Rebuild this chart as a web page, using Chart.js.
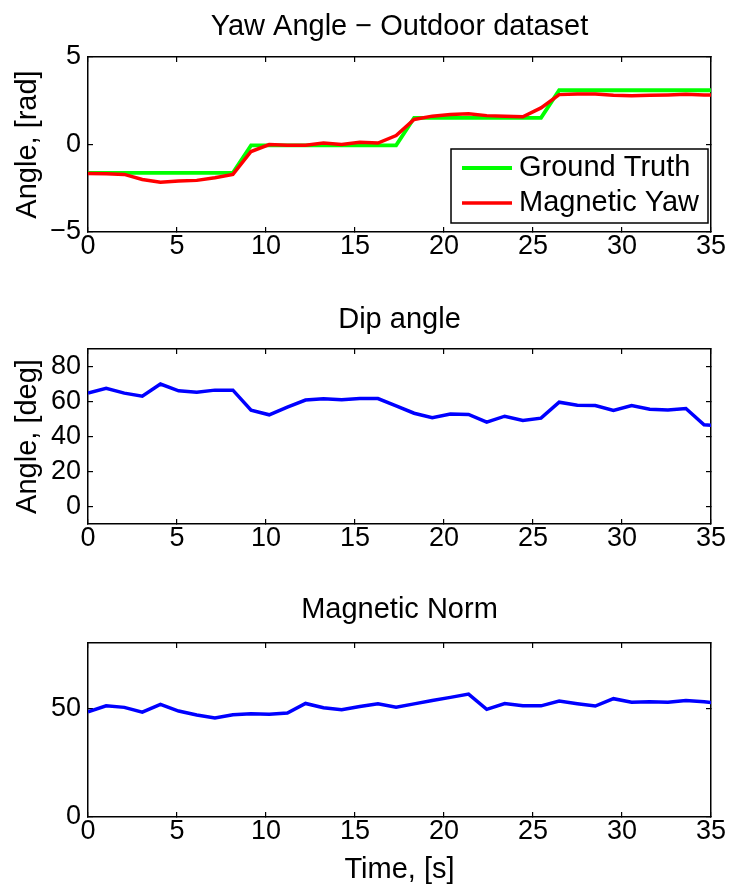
<!DOCTYPE html>
<html>
<head>
<meta charset="utf-8">
<script src="https://cdn.jsdelivr.net/npm/chart.js@4.4.0/dist/chart.umd.min.js"></script>
<style>
body { margin: 0; background: #fff; }
.box { position: absolute; left: 0; width: 731px; }
</style>
</head>
<body>
<div class="box" style="top:0;height:280px"><canvas id="yaw" width="731" height="280"></canvas></div>
<div class="box" style="top:280px;height:300px"><canvas id="dip" width="731" height="300"></canvas></div>
<div class="box" style="top:580px;height:312px"><canvas id="norm" width="731" height="312"></canvas></div>
<script>
// sample times, [s]
const time = [0, 1.02, 2.04, 3.05, 4.07, 5.09, 6.11, 7.13, 8.14, 9.16, 10.18, 11.2,
  12.22, 13.23, 14.25, 15.27, 16.29, 17.31, 18.32, 19.34, 20.36, 21.38, 22.4, 23.41,
  24.43, 25.45, 26.47, 27.49, 28.5, 29.52, 30.54, 31.56, 32.58, 33.59, 34.61, 35.63];

const yawTruth = [-1.62, -1.62, -1.62, -1.62, -1.62, -1.62, -1.62, -1.62, -1.62,
  -0.05, -0.05, -0.05, -0.05, -0.05, -0.05, -0.05, -0.05, -0.05,
  1.52, 1.52, 1.52, 1.52, 1.52, 1.52, 1.52, 1.52,
  3.1, 3.1, 3.1, 3.1, 3.1, 3.1, 3.1, 3.1, 3.1, 3.1];
const yawMagnetic = [-1.65, -1.67, -1.71, -2.0, -2.15, -2.09, -2.05, -1.9, -1.71, -0.4,
  0, -0.04, -0.04, 0.08, 0, 0.13, 0.08, 0.51, 1.43, 1.62, 1.71, 1.75, 1.65, 1.62, 1.58,
  2.09, 2.85, 2.89, 2.89, 2.81, 2.79, 2.81, 2.83, 2.87, 2.83, 2.83];
const dipAngle = [64.8, 67.6, 64.8, 63, 70, 66.1, 65.3, 66.5, 66.5, 55, 52.4, 56.8,
  60.8, 61.5, 61, 61.7, 61.7, 57.5, 53.3, 50.7, 52.8, 52.6, 48.2, 51.6, 49.1, 50.5,
  59.6, 57.9, 57.7, 54.9, 57.7, 55.6, 55.2, 56, 46.7, 46];
const magNorm = [48.4, 51.1, 50.4, 48.2, 51.8, 48.7, 46.9, 45.5, 47, 47.5, 47.2, 47.8,
  52.2, 50.2, 49.3, 50.8, 52.1, 50.5, 52, 53.6, 55, 56.5, 49.5, 52.2, 51.1, 51.1,
  53.3, 52.1, 51, 54.4, 52.8, 53, 52.8, 53.6, 53, 52.2];

const timeTicks = [0, 5, 10, 15, 20, 25, 30, 35];
const yawTicks = [-5, 0, 5];
const dipTicks = [0, 20, 40, 60, 80];
const normTicks = [0, 50];

const FONT = "'Liberation Sans', Arial, sans-serif";
Chart.defaults.font.family = FONT;
Chart.defaults.font.size = 27;
Chart.defaults.color = '#000';
Chart.defaults.animation = false;

const pts = arr => arr.map((v, i) => ({ x: time[i], y: v }));
const setTicks = list => scale => { scale.ticks = list.map(v => ({ value: v })); };
const minus = v => String(v).replace('-', '\u2212');
const big = { size: 29 };

// legend box drawn inside the plot, lower right (like matlab 'Location','SouthEast')
const insideLegend = {
  id: 'insideLegend',
  afterDatasetsDraw(chart) {
    const { ctx, chartArea } = chart;
    const sets = chart.data.datasets;
    ctx.save();
    ctx.font = '29px ' + FONT;
    const textW = Math.max(...sets.map(d => ctx.measureText(d.label).width));
    const w = 11 + 50 + 7 + textW + 9;
    const h = 74;
    const right = chartArea.right - 3, bottom = chartArea.bottom - 9;
    const left = right - w, top = bottom - h;
    ctx.fillStyle = '#fff';
    ctx.fillRect(left, top, w, h);
    ctx.strokeStyle = '#000';
    ctx.lineWidth = 1.5;
    ctx.strokeRect(left, top, w, h);
    sets.forEach((d, i) => {
      const y = top + 19 + i * 35;
      ctx.strokeStyle = d.borderColor;
      ctx.lineWidth = d.borderWidth;
      ctx.beginPath();
      ctx.moveTo(left + 11, y);
      ctx.lineTo(left + 61, y);
      ctx.stroke();
      ctx.fillStyle = '#000';
      ctx.textBaseline = 'middle';
      ctx.fillText(d.label, left + 68, y);
    });
    ctx.restore();
  }
};

// box axes with inward ticks on all four sides; the top axis carries the plot title
function axes(o) {
  const frame = { display: true, color: '#000', width: 1.5 };
  const grid = { drawOnChartArea: false, color: '#000', lineWidth: 1.2, tickLength: -5 };
  return {
    x: {
      type: 'linear', min: 0, max: 35,
      afterBuildTicks: setTicks(timeTicks),
      border: frame, grid: grid,
      ticks: { padding: 3, maxRotation: 0, autoSkip: false },
      afterFit: s => { s.height = o.xHeight; },
      title: o.xTitle
        ? { display: true, text: o.xTitle, font: big, padding: { top: 0, bottom: 4.6 } }
        : { display: false }
    },
    x2: {
      type: 'linear', position: 'top', min: 0, max: 35,
      afterBuildTicks: setTicks(timeTicks),
      border: frame, grid: grid,
      ticks: { display: false },
      afterFit: s => { s.height = o.topHeight; },
      title: { display: true, text: o.title, font: big, padding: { top: o.titlePad, bottom: 0 } }
    },
    y: {
      type: 'linear', min: o.yMin, max: o.yMax,
      afterBuildTicks: setTicks(o.yTicks),
      border: frame, grid: grid,
      ticks: { padding: 12, callback: minus },
      afterFit: s => { s.width = 88; },
      title: o.yTitle
        ? { display: true, text: o.yTitle, font: big, padding: { top: 10.6, bottom: 4 } }
        : { display: false }
    },
    y2: {
      type: 'linear', position: 'right', min: o.yMin, max: o.yMax,
      afterBuildTicks: setTicks(o.yTicks),
      border: frame, grid: grid,
      ticks: { display: false },
      afterFit: s => { s.width = 0; }
    }
  };
}

function opts(sc) {
  return {
    responsive: false,
    layout: { padding: { left: 0, right: 20, top: 0, bottom: 0 } },
    plugins: {
      legend: { display: false },
      tooltip: { enabled: false },
      title: { display: false }
    },
    elements: { point: { radius: 0 }, line: { tension: 0 } },
    scales: axes(sc)
  };
}

new Chart(document.getElementById('yaw'), {
  type: 'line',
  data: {
    datasets: [
      { label: 'Ground Truth', data: pts(yawTruth), borderColor: '#00ff00', borderWidth: 3.8, order: 1 },
      { label: 'Magnetic Yaw', data: pts(yawMagnetic), borderColor: '#ff0000', borderWidth: 3.5, order: 0 }
    ]
  },
  options: opts({ title: 'Yaw Angle \u2212 Outdoor dataset', topHeight: 57, titlePad: 9.6,
    xHeight: 48, yMin: -5, yMax: 5, yTicks: yawTicks, yTitle: 'Angle, [rad]' }),
  plugins: [insideLegend]
});

new Chart(document.getElementById('dip'), {
  type: 'line',
  data: {
    datasets: [
      { label: 'Dip angle', data: pts(dipAngle), borderColor: '#0000ff', borderWidth: 3.5 }
    ]
  },
  options: opts({ title: 'Dip angle', topHeight: 69, titlePad: 22.6,
    xHeight: 56, yMin: -10, yMax: 90, yTicks: dipTicks, yTitle: 'Angle, [deg]' })
});

new Chart(document.getElementById('norm'), {
  type: 'line',
  data: {
    datasets: [
      { label: 'Magnetic Norm', data: pts(magNorm), borderColor: '#0000ff', borderWidth: 3.5 }
    ]
  },
  options: opts({ title: 'Magnetic Norm', topHeight: 63, titlePad: 12.6,
    xHeight: 75, yMin: 0, yMax: 80, yTicks: normTicks, xTitle: 'Time, [s]' })
});
</script>
</body>
</html>
